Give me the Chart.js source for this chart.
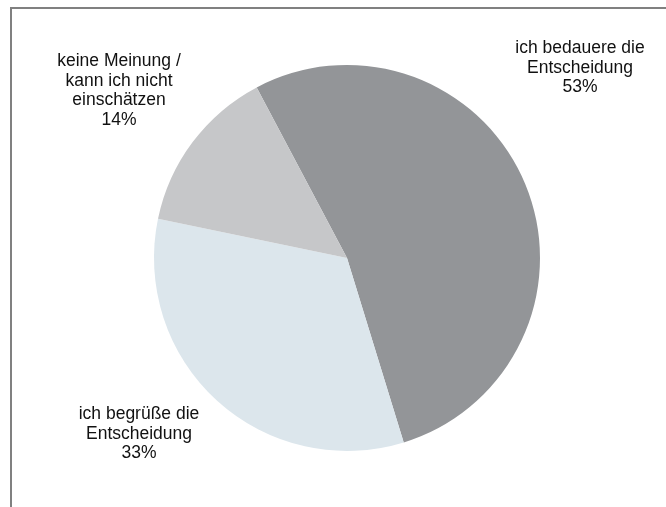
<!DOCTYPE html>
<html>
<head>
<meta charset="utf-8">
<script src="https://cdn.jsdelivr.net/npm/chart.js@4/dist/chart.umd.min.js"></script>
<style>
  html, body { margin: 0; padding: 0; background: #fff; }
  #wrap { width: 666px; height: 507px; position: relative; }
</style>
</head>
<body>
<div id="wrap"><canvas id="pieChart" width="666" height="507"></canvas></div>
<script>
const categories = [
  ["ich bedauere die", "Entscheidung"],
  ["ich begrüße die", "Entscheidung"],
  ["keine Meinung /", "kann ich nicht", "einschätzen"]
];
const shares = [53, 33, 14];
const sliceColors = ['#939598', '#dce6ec', '#c6c7c9'];

// where the labels sit (centre of the text block, first line)
const labelSpots = [
  { x: 580, y: 48 },
  { x: 139, y: 414 },
  { x: 119, y: 61 }
];

const frameAndLabels = {
  id: 'frameAndLabels',
  afterDraw(chart) {
    const ctx = chart.ctx;
    ctx.save();
    // open frame: left + top edge
    ctx.strokeStyle = '#808080';
    ctx.lineWidth = 2;
    ctx.beginPath();
    ctx.moveTo(11, 507);
    ctx.lineTo(11, 8);
    ctx.lineTo(666, 8);
    ctx.stroke();

    ctx.fillStyle = '#111';
    ctx.font = '17.5px "Liberation Sans", Arial, sans-serif';
    ctx.textAlign = 'center';
    ctx.textBaseline = 'middle';
    categories.forEach((lines, i) => {
      const spot = labelSpots[i];
      const all = lines.concat([shares[i] + '%']);
      all.forEach((t, k) => {
        ctx.fillText(t, spot.x, spot.y + k * 19.8);
      });
    });
    ctx.restore();
  }
};

const pieData = {
  labels: categories.map(c => c.join(' ')),
  datasets: [{
    data: shares,
    backgroundColor: sliceColors,
    borderWidth: 0
  }]
};

const pieOptions = {
  responsive: false,
  animation: false,
  rotation: -27.9,
  layout: {
    padding: { top: 65, bottom: 56, left: 154, right: 126 }
  },
  plugins: {
    legend: { display: false },
    tooltip: { enabled: false }
  }
};

new Chart(document.getElementById('pieChart'), {
  type: 'pie',
  data: pieData,
  options: pieOptions,
  plugins: [frameAndLabels]
});
</script>
</body>
</html>
